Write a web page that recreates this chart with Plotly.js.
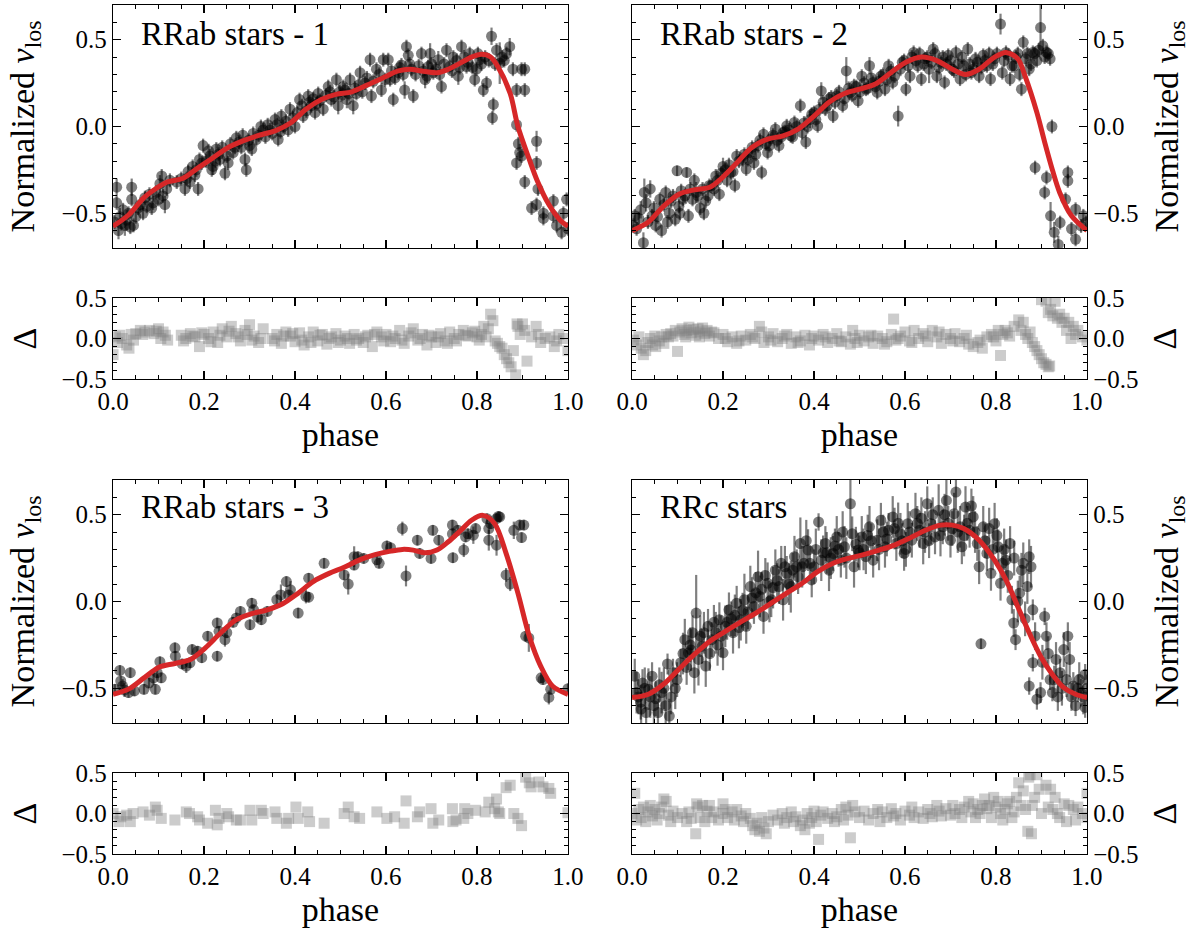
<!DOCTYPE html>
<html><head><meta charset="utf-8">
<script src="https://cdn.plot.ly/plotly-3.0.1.min.js"></script>
<style>html,body{margin:0;padding:0;background:#fff}#chart{width:1200px;height:928px}</style>
</head><body><div id="chart"></div>
<script>
// ---------------- DATA ----------------
const panelLabels = ['RRab stars - 1', 'RRab stars - 2', 'RRab stars - 3', 'RRc stars'];
const yTitleMain = 'Normalized <i>v</i><sub>los</sub>';
const yTitleRes = '\u0394';
const xTitle = 'phase';

// panel 1 observed points: [phase, normalized v_los, error]
const p1_points = [
[0.008,-0.35,0.05],[0.008,-0.44,0.04],[0.015,-0.52,0.05],[0.022,-0.48,0.04],[0.026,-0.57,0.06],
[0.041,-0.35,0.05],[0.041,-0.42,0.04],[0.045,-0.57,0.04],[0.034,-0.50,0.04],[0.066,-0.50,0.04],
[0.074,-0.46,0.04],[0.088,-0.44,0.04],[0.103,-0.33,0.05],[0.107,-0.285,0.04],[0.11,-0.40,0.04],
[0.114,-0.45,0.05],[0.158,-0.36,0.04],[0.162,-0.30,0.04],[0.169,-0.32,0.04],[0.18,-0.28,0.04],
[0.187,-0.36,0.04],[0.198,-0.11,0.04],[0.195,-0.21,0.04],[0.213,-0.17,0.04],[0.22,-0.23,0.05],
[0.227,-0.13,0.04],[0.235,-0.19,0.04],[0.246,-0.27,0.04],[0.253,-0.21,0.04],[0.264,-0.15,0.04],
[0.271,-0.065,0.04],[0.282,-0.12,0.04],[0.29,-0.19,0.04],[0.293,-0.25,0.04],[0.30,-0.11,0.04],
[0.308,-0.04,0.04],[0.315,-0.075,0.04],[0.33,-0.02,0.04],[0.345,-0.02,0.04],[0.356,0.04,0.04],
[0.363,-0.075,0.04],[0.37,0.06,0.04],[0.374,0.0,0.04],[0.389,0.10,0.04],[0.40,0.0,0.04],
[0.41,0.155,0.04],[0.418,0.06,0.04],[0.429,0.175,0.04],[0.436,0.12,0.04],[0.444,0.08,0.04],
[0.451,0.19,0.04],[0.462,0.10,0.04],[0.473,0.23,0.04],[0.48,0.155,0.04],[0.491,0.27,0.04],
[0.495,0.12,0.05],
[0.003,-0.55,0.04],[0.012,-0.60,0.05],[0.018,-0.56,0.04],[0.03,-0.54,0.06],[0.038,-0.58,0.04],
[0.05,-0.52,0.04],[0.055,-0.47,0.04],[0.06,-0.45,0.04],[0.07,-0.41,0.04],[0.08,-0.39,0.04],
[0.085,-0.47,0.04],[0.095,-0.38,0.04],[0.1,-0.42,0.04],[0.118,-0.36,0.04],[0.125,-0.31,0.04],
[0.14,-0.32,0.04],[0.15,-0.30,0.04],[0.165,-0.26,0.04],[0.175,-0.23,0.04],[0.183,-0.25,0.04],
[0.19,-0.19,0.04],[0.205,-0.20,0.04],[0.21,-0.14,0.04],[0.217,-0.25,0.04],[0.225,-0.20,0.04],
[0.232,-0.16,0.04],[0.24,-0.12,0.04],[0.25,-0.17,0.04],[0.258,-0.10,0.04],[0.268,-0.12,0.04],
[0.277,-0.09,0.04],[0.285,-0.05,0.04],[0.298,-0.08,0.04],[0.305,-0.13,0.04],[0.32,-0.05,0.04],
[0.325,0.0,0.04],[0.335,-0.06,0.04],[0.34,0.01,0.04],[0.35,-0.04,0.04],[0.36,0.01,0.04],
[0.368,-0.03,0.04],[0.38,0.03,0.04],[0.385,-0.02,0.04],[0.395,0.05,0.04],[0.405,0.08,0.04],
[0.415,0.12,0.04],[0.425,0.09,0.04],[0.432,0.14,0.04],[0.44,0.16,0.04],[0.448,0.13,0.04],
[0.455,0.15,0.04],[0.468,0.18,0.04],[0.477,0.2,0.04],[0.485,0.17,0.04],[0.498,0.2,0.04],
[0.506,0.23,0.04],[0.514,0.155,0.05],[0.521,0.27,0.04],[0.528,0.12,0.05],[0.535,0.19,0.04],
[0.543,0.31,0.04],[0.554,0.25,0.04],[0.565,0.385,0.04],[0.568,0.175,0.04],[0.579,0.33,0.04],
[0.59,0.21,0.04],[0.594,0.385,0.04],[0.605,0.385,0.04],[0.609,0.27,0.04],[0.616,0.155,0.04],
[0.627,0.31,0.04],[0.634,0.355,0.04],[0.641,0.21,0.05],[0.645,0.46,0.04],[0.649,0.41,0.04],
[0.656,0.33,0.04],[0.66,0.175,0.04],[0.678,0.42,0.04],[0.686,0.27,0.05],[0.693,0.345,0.04],
[0.697,0.42,0.06],[0.704,0.31,0.04],[0.715,0.385,0.05],[0.722,0.23,0.04],[0.733,0.44,0.04],
[0.74,0.345,0.04],[0.748,0.40,0.04],[0.759,0.29,0.05],[0.766,0.46,0.04],[0.777,0.345,0.04],
[0.784,0.42,0.04],[0.795,0.27,0.04],[0.799,0.33,0.04],[0.806,0.385,0.04],[0.814,0.21,0.04],
[0.821,0.25,0.04],[0.832,0.52,0.05],[0.836,0.127,0.04],[0.834,0.05,0.04],[0.843,0.44,0.04],
[0.85,0.365,0.12],[0.865,0.42,0.04],[0.872,0.46,0.05],[0.879,0.33,0.04],[0.887,0.21,0.04],
[0.898,0.33,0.04],[0.905,0.33,0.04],[0.905,0.21,0.04],
[0.887,0.01,0.04],[0.891,-0.10,0.04],[0.894,-0.15,0.05],[0.887,-0.21,0.04],[0.898,-0.17,0.04],
[0.905,-0.32,0.04],[0.931,-0.085,0.06],[0.931,-0.21,0.04],[0.934,-0.36,0.04],[0.92,-0.47,0.04],
[0.931,-0.45,0.04],[0.946,-0.50,0.04],[0.946,-0.53,0.04],[0.968,-0.43,0.04],[0.968,-0.515,0.04],
[0.975,-0.57,0.04],[0.99,-0.50,0.04],[0.997,-0.42,0.04],[0.986,-0.61,0.04],[1.0,-0.59,0.04],
[0.502,0.18,0.04],[0.51,0.21,0.04],[0.518,0.19,0.04],[0.532,0.22,0.04],[0.54,0.24,0.04],
[0.548,0.2,0.04],[0.558,0.28,0.04],[0.572,0.26,0.04],[0.585,0.3,0.04],[0.598,0.27,0.04],
[0.612,0.32,0.04],[0.62,0.28,0.04],[0.63,0.34,0.04],[0.638,0.3,0.04],[0.652,0.36,0.04],
[0.665,0.3,0.04],[0.672,0.35,0.04],[0.682,0.32,0.04],[0.69,0.29,0.04],[0.7,0.36,0.04],
[0.71,0.33,0.04],[0.718,0.3,0.04],[0.728,0.36,0.04],[0.745,0.32,0.04],[0.755,0.38,0.04],
[0.762,0.34,0.04],[0.772,0.4,0.04],[0.78,0.37,0.04],[0.79,0.34,0.04],[0.802,0.42,0.04],
[0.81,0.36,0.04],[0.818,0.4,0.04],[0.826,0.38,0.04],[0.84,0.36,0.04],[0.855,0.4,0.04],
[0.86,0.38,0.04]
];
const p1_model_phase = [0,0.034,0.068,0.093,0.119,0.153,0.186,0.22,0.254,0.288,0.322,0.356,0.39,0.424,0.458,0.49,0.525,0.56,0.593,0.627,0.653,0.678,0.712,0.737,0.763,0.788,0.81,0.83,0.847,0.873,0.89,0.915,0.932,0.958,0.983,1.0];
const p1_model_v = [-0.575,-0.51,-0.41,-0.36,-0.32,-0.30,-0.24,-0.18,-0.12,-0.08,-0.05,-0.025,0.02,0.10,0.156,0.185,0.20,0.24,0.28,0.32,0.33,0.32,0.31,0.33,0.365,0.40,0.416,0.40,0.34,0.19,0.0,-0.19,-0.31,-0.45,-0.54,-0.575];
// panel 1 residuals: [phase, delta]
const p1_resid = [
[0.0,-0.2],[0.005,0.02],[0.01,-0.05],[0.02,0.0],[0.03,-0.08],[0.035,-0.12],[0.04,0.05],[0.05,0.06],[0.06,0.1],[0.07,0.08],
[0.08,0.1],[0.09,0.06],[0.1,0.12],[0.105,0.0],[0.11,0.08],[0.115,0.04],[0.12,-0.02],[0.15,0.04],[0.16,0.0],[0.17,0.06],
[0.18,0.02],[0.19,-0.1],[0.2,0.05],[0.21,0.0],[0.22,0.08],[0.23,-0.05],[0.24,0.12],[0.25,0.02],[0.26,0.15],[0.27,0.06],
[0.28,-0.03],[0.29,0.1],[0.3,0.17],[0.31,0.03],[0.32,-0.05],[0.33,0.12],[0.35,0.0],[0.36,0.05],[0.37,-0.06],[0.38,0.08],
[0.39,0.03],[0.4,-0.04],[0.41,0.07],[0.42,-0.08],[0.43,0.02],[0.44,0.08],[0.45,-0.03],[0.46,0.05],[0.47,-0.07],[0.48,0.02],
[0.49,0.06],[0.5,-0.02],[0.51,0.03],[0.52,-0.06],[0.53,0.05],[0.54,0.0],[0.55,-0.05],[0.56,0.04],[0.57,-0.1],[0.58,0.08],
[0.59,0.02],[0.6,0.05],[0.61,-0.04],[0.62,0.0],[0.63,0.1],[0.64,-0.06],[0.65,0.03],[0.66,0.12],[0.67,-0.02],[0.68,0.05],
[0.69,-0.08],[0.7,0.02],[0.71,-0.05],[0.72,0.06],[0.73,-0.03],[0.74,0.08],[0.75,0.0],[0.76,0.05],[0.77,0.1],[0.78,0.03],
[0.79,0.07],[0.8,0.02],[0.81,0.05],[0.815,0.15],[0.82,0.02],[0.825,0.12],[0.83,0.3],[0.835,0.22],[0.84,-0.03],[0.845,-0.06],
[0.85,-0.1],[0.855,-0.12],[0.86,-0.2],[0.865,-0.25],[0.87,-0.3],[0.875,-0.35],[0.88,-0.15],[0.885,-0.45],[0.888,0.18],[0.89,0.15],
[0.895,0.05],[0.9,0.18],[0.905,0.1],[0.91,-0.28],[0.92,0.02],[0.93,0.15],[0.94,-0.05],[0.95,0.0],[0.96,0.02],[0.97,-0.1],
[0.98,0.05],[0.99,0.0],[1.0,-0.15],
[0.015,0.04],[0.045,-0.02],[0.065,0.05],[0.095,0.09],[0.155,-0.03],[0.175,0.03],[0.195,0.07],[0.215,-0.04],[0.235,0.04],[0.255,0.09],
[0.275,0.02],[0.295,0.05],[0.305,-0.02],[0.325,0.0],[0.355,-0.03],[0.375,0.03],[0.395,0.06],[0.415,-0.02],[0.435,-0.05],[0.455,0.04],
[0.475,0.0],[0.495,-0.05],[0.515,0.0],[0.535,-0.02],[0.555,0.02],[0.575,0.05],[0.595,-0.03],[0.615,0.03],[0.635,-0.02],[0.655,0.07],
[0.675,0.0],[0.695,0.04],[0.715,0.02],[0.735,-0.06],[0.755,-0.03],[0.775,0.04],[0.795,0.09],[0.805,-0.02],[0.935,0.05],[0.975,-0.03]
];

// panel 2
const p2_points = [
[0.006,-0.515,0.04],[0.01,-0.59,0.04],[0.019,-0.48,0.05],[0.025,-0.67,0.06],[0.027,-0.38,0.08],
[0.031,-0.44,0.05],[0.04,-0.36,0.05],[0.044,-0.515,0.04],[0.052,-0.57,0.04],[0.065,-0.60,0.04],
[0.061,-0.42,0.04],[0.074,-0.38,0.04],[0.082,-0.50,0.04],[0.095,-0.535,0.04],[0.099,-0.255,0.03],
[0.103,-0.46,0.04],[0.112,-0.42,0.04],[0.12,-0.265,0.03],[0.124,-0.515,0.04],[0.133,-0.42,0.04],
[0.137,-0.31,0.04],[0.141,-0.38,0.06],[0.15,-0.47,0.04],[0.158,-0.50,0.04],[0.167,-0.40,0.04],
[0.175,-0.34,0.04],[0.184,-0.285,0.04],[0.192,-0.39,0.04],[0.2,-0.23,0.05],[0.209,-0.31,0.04],
[0.217,-0.265,0.04],[0.226,-0.34,0.04],[0.23,-0.17,0.04],[0.243,-0.19,0.04],[0.251,-0.245,0.04],
[0.26,-0.15,0.04],[0.268,-0.21,0.04],[0.277,-0.11,0.04],[0.285,-0.265,0.04],[0.289,-0.045,0.04],
[0.298,-0.15,0.04],[0.306,-0.07,0.04],[0.315,-0.015,0.04],[0.323,-0.11,0.04],[0.332,-0.035,0.04],
[0.34,0.004,0.04],[0.349,-0.054,0.04],[0.357,0.023,0.04],[0.37,0.12,0.04],[0.374,-0.035,0.04],
[0.382,-0.09,0.04],[0.391,0.04,0.05],[0.4,0.08,0.04],[0.408,0.004,0.04],[0.416,0.205,0.05],
[0.425,0.10,0.04],[0.433,0.158,0.04],[0.442,0.06,0.04],[0.45,0.177,0.04],[0.463,0.12,0.04],
[0.471,0.32,0.08],[0.48,0.196,0.04],[0.488,0.235,0.04],[0.497,0.148,0.04],[0.505,0.29,0.04],
[0.514,0.215,0.04],[0.522,0.35,0.05],[0.53,0.254,0.04],[0.539,0.196,0.04],[0.547,0.29,0.04],
[0.556,0.215,0.04],[0.564,0.35,0.04],[0.573,0.254,0.04],[0.585,0.06,0.06],[0.594,0.37,0.04],
[0.602,0.215,0.04],[0.611,0.29,0.04],[0.619,0.427,0.04],[0.628,0.35,0.04],[0.636,0.273,0.04],
[0.645,0.39,0.04],[0.653,0.33,0.08],[0.662,0.446,0.04],[0.67,0.29,0.04],[0.679,0.37,0.04],
[0.687,0.254,0.04],[0.695,0.41,0.04],[0.704,0.33,0.04],[0.712,0.427,0.04],[0.721,0.273,0.04],
[0.729,0.35,0.04],[0.738,0.446,0.04],[0.746,0.31,0.04],[0.755,0.39,0.04],[0.763,0.29,0.04],
[0.772,0.41,0.04],[0.78,0.35,0.04],[0.788,0.273,0.04],[0.797,0.39,0.04],[0.81,0.59,0.06],
[0.814,0.31,0.04],[0.822,0.427,0.04],[0.831,0.273,0.04],[0.835,0.35,0.04],[0.844,0.40,0.04],
[0.856,0.215,0.04],[0.86,0.485,0.04],[0.865,0.39,0.04],[0.873,0.33,0.04],[0.881,0.427,0.04],
[0.89,0.38,0.04],[0.898,0.57,0.15],[0.903,0.465,0.04],[0.911,0.427,0.04],[0.919,0.39,0.04],
[0.923,0.0,0.04],[0.886,-0.237,0.04],[0.911,-0.294,0.04],[0.907,-0.38,0.04],[0.92,-0.515,0.08],
[0.928,-0.61,0.06],[0.937,-0.68,0.05],[0.958,-0.265,0.04],[0.958,-0.313,0.04],[0.953,-0.42,0.04],
[0.975,-0.477,0.04],[0.975,-0.65,0.04],[0.992,-0.515,0.04],[0.987,-0.573,0.04],[0.941,-0.554,0.04],
[0.966,-0.59,0.04],[0.998,-0.554,0.04],
[0.003,-0.57,0.04],[0.015,-0.53,0.04],[0.035,-0.55,0.04],[0.048,-0.47,0.04],[0.056,-0.52,0.04],
[0.07,-0.45,0.04],[0.078,-0.55,0.04],[0.086,-0.43,0.04],[0.09,-0.40,0.04],[0.105,-0.50,0.04],
[0.108,-0.37,0.04],[0.116,-0.40,0.04],[0.128,-0.36,0.04],[0.145,-0.40,0.04],[0.155,-0.36,0.04],
[0.162,-0.43,0.04],[0.17,-0.34,0.04],[0.18,-0.36,0.04],[0.188,-0.31,0.04],[0.196,-0.27,0.04],
[0.205,-0.25,0.04],[0.213,-0.22,0.04],[0.222,-0.26,0.04],[0.235,-0.2,0.04],[0.247,-0.16,0.04],
[0.255,-0.19,0.04],[0.264,-0.12,0.04],[0.272,-0.16,0.04],[0.281,-0.08,0.04],[0.294,-0.1,0.04],
[0.302,-0.11,0.04],[0.31,-0.05,0.04],[0.319,-0.08,0.04],[0.328,-0.06,0.04],[0.336,-0.03,0.04],
[0.345,-0.02,0.04],[0.353,-0.06,0.04],[0.362,0.0,0.04],[0.378,0.02,0.04],[0.386,0.0,0.04],
[0.395,0.07,0.04],[0.404,0.04,0.04],[0.412,0.1,0.04],[0.42,0.14,0.04],[0.429,0.12,0.04],
[0.438,0.17,0.04],[0.446,0.14,0.04],[0.455,0.2,0.04],[0.467,0.16,0.04],[0.476,0.22,0.04],
[0.484,0.18,0.04],[0.493,0.23,0.04],[0.501,0.2,0.04],[0.51,0.25,0.04],[0.518,0.22,0.04],
[0.526,0.28,0.04],[0.535,0.23,0.04],[0.543,0.26,0.04],[0.552,0.3,0.04],[0.56,0.27,0.04],
[0.569,0.32,0.04],[0.577,0.29,0.04],[0.59,0.33,0.04],[0.598,0.38,0.04],[0.607,0.35,0.04],
[0.615,0.4,0.04],[0.624,0.38,0.04],[0.632,0.42,0.04],[0.641,0.36,0.04],[0.649,0.4,0.04],
[0.658,0.37,0.04],[0.666,0.42,0.04],[0.675,0.34,0.04],[0.683,0.4,0.04],[0.691,0.36,0.04],
[0.7,0.38,0.04],[0.708,0.32,0.04],[0.717,0.36,0.04],[0.725,0.4,0.04],[0.734,0.3,0.04],
[0.742,0.36,0.04],[0.75,0.33,0.04],[0.759,0.37,0.04],[0.768,0.34,0.04],[0.776,0.38,0.04],
[0.785,0.42,0.04],[0.793,0.36,0.04],[0.802,0.42,0.04],[0.818,0.38,0.04],[0.827,0.41,0.04],
[0.84,0.35,0.04],[0.848,0.42,0.04],[0.852,0.3,0.04],[0.869,0.42,0.04],[0.877,0.36,0.04],
[0.885,0.42,0.04],[0.894,0.44,0.04],[0.907,0.4,0.04],[0.915,0.42,0.04]
];
const p2_model_phase = [0,0.036,0.069,0.103,0.137,0.171,0.196,0.23,0.264,0.298,0.332,0.365,0.4,0.433,0.467,0.5,0.535,0.569,0.602,0.636,0.67,0.704,0.733,0.763,0.797,0.822,0.848,0.864,0.89,0.907,0.924,0.94,0.966,1.0];
const p2_model_v = [-0.6,-0.55,-0.46,-0.39,-0.365,-0.35,-0.30,-0.21,-0.12,-0.073,-0.054,-0.015,0.06,0.14,0.19,0.215,0.245,0.31,0.37,0.40,0.38,0.33,0.30,0.33,0.40,0.427,0.39,0.29,0.08,-0.09,-0.25,-0.38,-0.515,-0.6];
const p2_resid = [
[0.003,-0.02],[0.01,-0.08],[0.015,0.02],[0.02,-0.12],[0.025,-0.2],[0.03,-0.15],[0.035,-0.05],[0.04,0.0],[0.045,-0.08],[0.05,0.03],
[0.06,-0.03],[0.065,0.02],[0.07,-0.06],[0.08,0.02],[0.085,0.06],[0.09,0.03],[0.095,0.1],[0.1,-0.16],[0.105,0.08],[0.11,0.12],
[0.115,0.05],[0.12,0.1],[0.125,0.14],[0.13,0.07],[0.135,0.11],[0.14,0.04],[0.145,0.12],[0.15,0.08],[0.155,0.13],[0.16,0.06],
[0.165,0.1],[0.17,0.03],[0.18,0.07],[0.19,0.0],[0.2,0.05],[0.21,-0.04],[0.22,0.02],[0.23,-0.06],[0.24,0.03],[0.25,-0.02],
[0.26,0.05],[0.27,0.0],[0.28,0.15],[0.285,0.08],[0.29,-0.05],[0.3,0.02],[0.31,0.06],[0.32,-0.04],[0.33,0.0],[0.34,0.05],
[0.35,-0.06],[0.36,0.02],[0.37,-0.03],[0.38,0.04],[0.39,-0.08],[0.4,0.03],[0.41,-0.02],[0.42,0.05],[0.43,-0.05],[0.44,0.0],
[0.45,0.06],[0.46,-0.04],[0.47,0.02],[0.48,-0.07],[0.485,0.1],[0.49,0.0],[0.5,0.04],[0.51,-0.03],[0.52,0.02],[0.53,-0.06],
[0.54,0.03],[0.55,0.0],[0.56,-0.04],[0.57,0.05],[0.575,0.24],[0.58,-0.02],[0.59,0.03],[0.6,0.08],[0.61,-0.03],[0.62,0.1],
[0.63,0.0],[0.64,0.06],[0.65,-0.04],[0.66,0.1],[0.67,0.02],[0.68,-0.06],[0.69,0.05],[0.7,0.0],[0.71,0.06],[0.72,-0.04],
[0.73,0.0],[0.74,-0.07],[0.75,-0.1],[0.76,-0.05],[0.77,-0.12],[0.78,0.02],[0.79,0.05],[0.8,-0.03],[0.805,0.1],[0.81,-0.21],
[0.815,0.05],[0.82,0.1],[0.83,0.03],[0.84,0.15],[0.85,0.23],[0.855,0.1],[0.86,0.2],[0.865,0.05],[0.87,0.0],[0.875,0.08],
[0.88,-0.05],[0.885,-0.1],[0.89,-0.15],[0.895,-0.2],[0.9,-0.25],[0.905,-0.3],[0.91,-0.32],[0.915,-0.35],[0.918,-0.34],[0.9,0.48],
[0.91,0.46],[0.915,0.32],[0.92,0.36],[0.925,0.28],[0.93,0.46],[0.935,0.25],[0.94,0.3],[0.945,0.2],[0.95,0.25],[0.955,0.1],
[0.96,0.2],[0.965,0.0],[0.97,0.15],[0.975,0.05],[0.98,0.1],[0.99,0.02],[1.0,-0.02],
[0.052,-0.1],[0.075,0.05],[0.118,0.02],[0.148,0.02],[0.175,0.08],[0.205,0.0],[0.235,-0.03],[0.265,0.02],[0.305,-0.02],[0.335,0.03],
[0.365,-0.05],[0.395,0.0],[0.425,0.02],[0.455,-0.03],[0.495,-0.05],[0.525,0.04],[0.555,-0.07],[0.585,0.0],[0.615,-0.05],[0.645,0.03],
[0.675,0.08],[0.705,-0.03],[0.735,0.04],[0.765,-0.02],[0.795,0.02],[0.825,0.07]
];

// panel 3
const p3_points = [
[0.004,-0.506,0.03],[0.015,-0.397,0.03],[0.017,-0.458,0.03],[0.021,-0.487,0.04],[0.038,-0.41,0.03],
[0.034,-0.525,0.03],[0.047,-0.515,0.03],[0.068,-0.506,0.03],[0.089,-0.44,0.04],[0.093,-0.506,0.03],
[0.097,-0.41,0.03],[0.106,-0.44,0.03],[0.103,-0.347,0.03],[0.136,-0.267,0.03],[0.137,-0.315,0.03],
[0.161,-0.372,0.04],[0.169,-0.353,0.03],[0.174,-0.277,0.03],[0.186,-0.286,0.03],[0.195,-0.324,0.03],
[0.208,-0.2,0.03],[0.229,-0.124,0.03],[0.233,-0.172,0.03],[0.229,-0.315,0.03],[0.246,-0.22,0.04],
[0.25,-0.18,0.03],[0.271,-0.095,0.03],[0.28,-0.057,0.03],[0.301,-0.134,0.03],[0.305,-0.01,0.03],
[0.309,-0.048,0.03],[0.326,-0.105,0.03],[0.339,-0.057,0.03],[0.36,0.01,0.03],[0.369,0.038,0.06],
[0.381,0.115,0.03],[0.386,0.038,0.03],[0.39,0.067,0.05],[0.407,-0.067,0.03],[0.424,0.029,0.04],
[0.43,0.134,0.03],[0.43,0.025,0.03],[0.464,0.22,0.03],[0.508,0.153,0.03],[0.517,0.1,0.06],
[0.53,0.258,0.06],[0.538,0.258,0.03],[0.551,0.248,0.03],[0.58,0.24,0.03],[0.585,0.22,0.03],
[0.602,0.32,0.03],[0.61,0.31,0.03],[0.636,0.42,0.04],[0.644,0.147,0.06],[0.669,0.353,0.03],
[0.674,0.277,0.03],[0.699,0.248,0.03],[0.703,0.41,0.03],[0.716,0.353,0.03],[0.746,0.44,0.03],
[0.746,0.39,0.03],[0.747,0.252,0.03],[0.758,0.41,0.03],[0.771,0.296,0.04],[0.775,0.372,0.03],
[0.78,0.39,0.03],[0.792,0.382,0.05],[0.797,0.42,0.03],[0.822,0.477,0.03],[0.826,0.42,0.03],
[0.83,0.448,0.03],[0.843,0.477,0.03],[0.847,0.49,0.03],[0.85,0.487,0.03],[0.826,0.353,0.06],
[0.843,0.324,0.06],[0.864,0.153,0.04],[0.873,0.1,0.04],[0.881,0.41,0.05],[0.894,0.44,0.03],
[0.898,0.368,0.03],[0.903,0.44,0.03],[0.907,-0.2,0.03],[0.914,-0.21,0.08],[0.941,-0.44,0.03],
[0.945,-0.45,0.03],[0.958,-0.553,0.04],[0.962,-0.506,0.03],[1.0,-0.502,0.03],[0.079,-0.47,0.03],
[0.025,-0.51,0.04],[0.152,-0.36,0.03],[0.264,-0.12,0.03],[0.318,-0.09,0.03],[0.53,0.21,0.03]
];
const p3_model_phase = [0,0.034,0.068,0.1,0.136,0.17,0.203,0.237,0.271,0.305,0.339,0.373,0.407,0.44,0.475,0.508,0.542,0.576,0.61,0.636,0.66,0.686,0.712,0.737,0.763,0.788,0.813,0.839,0.864,0.89,0.915,0.94,0.966,1.0];
const p3_model_v = [-0.535,-0.505,-0.44,-0.38,-0.357,-0.334,-0.267,-0.18,-0.105,-0.07,-0.048,-0.013,0.048,0.115,0.162,0.197,0.24,0.27,0.29,0.30,0.296,0.28,0.296,0.344,0.406,0.468,0.496,0.448,0.277,0.048,-0.2,-0.372,-0.487,-0.535];
const p3_resid = [
[0.0,0.0],[0.013,-0.1],[0.017,-0.04],[0.03,-0.02],[0.038,-0.1],[0.044,0.0],[0.066,0.02],[0.08,-0.02],[0.093,0.08],[0.097,0.04],
[0.106,-0.06],[0.136,-0.08],[0.161,0.02],[0.168,0.0],[0.186,-0.04],[0.19,-0.08],[0.208,-0.12],[0.225,0.04],[0.229,-0.14],[0.233,-0.06],
[0.25,0.0],[0.254,-0.04],[0.271,-0.08],[0.28,-0.08],[0.301,0.04],[0.305,-0.08],[0.326,0.04],[0.33,0.0],[0.356,0.02],[0.36,-0.06],
[0.381,-0.12],[0.386,-0.06],[0.402,0.08],[0.407,-0.06],[0.428,0.02],[0.432,-0.1],[0.464,-0.12],[0.508,0.0],[0.517,0.08],[0.53,-0.04],
[0.542,-0.06],[0.58,0.02],[0.602,-0.06],[0.619,-0.04],[0.64,-0.12],[0.644,0.156],[0.669,-0.04],[0.674,0.02],[0.699,0.06],[0.703,-0.12],
[0.716,-0.08],[0.746,0.06],[0.747,-0.1],[0.754,-0.08],[0.771,-0.06],[0.773,0.06],[0.78,0.0],[0.797,0.04],[0.818,0.02],[0.826,0.14],
[0.839,0.06],[0.843,0.18],[0.847,0.02],[0.85,0.0],[0.864,0.32],[0.873,0.35],[0.881,0.0],[0.89,-0.06],[0.898,-0.15],[0.907,0.45],
[0.915,0.38],[0.919,0.33],[0.936,0.39],[0.945,0.33],[0.958,0.31],[0.962,0.25],[1.0,0.01]
];

// panel 4 (RRc)
const p4_points = [
[0.006,-0.43,0.1],[0.01,-0.525,0.12],[0.019,-0.58,0.1],[0.023,-0.47,0.08],[0.031,-0.64,0.1],
[0.036,-0.505,0.12],[0.044,-0.43,0.08],[0.052,-0.56,0.1],[0.057,-0.64,0.08],[0.065,-0.525,0.12],
[0.074,-0.60,0.1],[0.078,-0.36,0.06],[0.082,-0.66,0.1],[0.09,-0.41,0.08],[0.099,-0.45,0.1],
[0.107,-0.353,0.08],[0.116,-0.22,0.12],[0.124,-0.296,0.1],[0.133,-0.18,0.1],[0.137,-0.41,0.12],
[0.141,-0.067,0.22],[0.146,-0.334,0.15],[0.154,-0.258,0.1],[0.162,-0.372,0.12],[0.167,-0.143,0.1],
[0.175,-0.22,0.1],[0.184,-0.18,0.12],[0.192,-0.105,0.1],[0.2,-0.296,0.1],[0.205,-0.143,0.12],
[0.213,-0.048,0.1],[0.222,-0.18,0.12],[0.23,-0.01,0.1],[0.239,-0.105,0.12],[0.247,0.01,0.15],
[0.251,-0.143,0.1],[0.26,0.086,0.12],[0.268,-0.029,0.1],[0.277,0.143,0.15],[0.281,0.029,0.12],
[0.289,-0.086,0.1],[0.298,0.105,0.12],[0.306,0.01,0.1],[0.315,0.18,0.12],[0.323,0.086,0.1],
[0.332,0.01,0.12],[0.34,0.162,0.1],[0.349,0.086,0.15],[0.357,0.258,0.12],[0.365,0.143,0.1],
[0.37,0.334,0.15],[0.378,0.22,0.1],[0.387,0.296,0.12],[0.395,0.124,0.1],[0.41,0.458,0.05],
[0.416,0.238,0.12],[0.425,0.334,0.1],[0.433,0.18,0.12],[0.442,0.277,0.1],[0.45,0.372,0.12],
[0.459,0.238,0.1],[0.467,0.315,0.12],[0.48,0.563,0.2],[0.484,0.39,0.1],[0.488,0.2,0.12],
[0.497,0.296,0.1],[0.505,0.372,0.12],[0.514,0.258,0.1],[0.522,0.43,0.12],[0.53,0.238,0.1],
[0.539,0.353,0.12],[0.547,0.468,0.1],[0.556,0.315,0.12],[0.564,0.41,0.1],[0.573,0.487,0.12],
[0.581,0.334,0.1],[0.59,0.39,0.12],[0.598,0.277,0.1],[0.606,0.448,0.12],[0.615,0.353,0.1],
[0.623,0.506,0.12],[0.632,0.41,0.1],[0.64,0.334,0.12],[0.649,0.563,0.1],[0.657,0.448,0.12],
[0.666,0.372,0.1],[0.674,0.525,0.15],[0.683,0.43,0.1],[0.691,0.582,0.12],[0.7,0.353,0.1],
[0.708,0.506,0.12],[0.712,0.63,0.1],[0.721,0.43,0.12],[0.725,0.315,0.1],[0.733,0.544,0.12],
[0.742,0.41,0.1],[0.75,0.487,0.12],[0.759,0.334,0.1],[0.767,-0.244,0.03],[0.763,0.2,0.1],
[0.772,0.43,0.12],[0.78,0.277,0.1],[0.789,0.162,0.1],[0.797,0.448,0.12],[0.805,0.315,0.1],
[0.81,0.105,0.1],[0.822,0.238,0.12],[0.831,0.334,0.1],[0.835,0.01,0.08],[0.839,-0.124,0.08],
[0.843,-0.22,0.06],[0.852,0.048,0.1],[0.856,0.18,0.1],[0.869,0.086,0.1],[0.873,0.258,0.1],
[0.877,0.2,0.12],[0.881,-0.048,0.06],[0.881,-0.353,0.05],[0.873,-0.487,0.05],[0.89,-0.563,0.06],
[0.898,-0.525,0.06],[0.907,-0.086,0.05],[0.911,-0.2,0.08],[0.919,-0.45,0.06],[0.924,-0.525,0.05],
[0.932,-0.334,0.1],[0.941,-0.41,0.08],[0.949,-0.277,0.1],[0.958,-0.2,0.08],[0.962,-0.334,0.1],
[0.97,-0.487,0.08],[0.975,-0.6,0.06],[0.987,-0.525,0.08],[0.996,-0.42,0.06],[0.996,-0.61,0.06],
[0.014,-0.55,0.1],[0.028,-0.5,0.12],[0.048,-0.6,0.1],[0.07,-0.5,0.12],[0.086,-0.55,0.1],
[0.112,-0.3,0.12],[0.128,-0.25,0.1],[0.15,-0.2,0.12],[0.171,-0.3,0.1],[0.188,-0.25,0.12],
[0.209,-0.12,0.1],[0.226,-0.08,0.12],[0.243,-0.05,0.1],[0.264,0.02,0.12],[0.285,0.07,0.1],
[0.302,0.0,0.12],[0.319,0.12,0.1],[0.336,0.2,0.12],[0.353,0.18,0.1],[0.374,0.2,0.12],
[0.391,0.22,0.1],[0.404,0.3,0.12],[0.42,0.28,0.1],[0.437,0.25,0.12],[0.454,0.3,0.1],
[0.471,0.25,0.12],[0.492,0.33,0.1],[0.509,0.3,0.12],[0.526,0.35,0.1],[0.543,0.3,0.12],
[0.56,0.36,0.1],[0.577,0.42,0.12],[0.594,0.35,0.1],[0.61,0.4,0.12],[0.627,0.45,0.1],
[0.644,0.4,0.12],[0.661,0.5,0.1],[0.678,0.38,0.12],[0.695,0.45,0.1],[0.716,0.4,0.12],
[0.737,0.45,0.1],[0.754,0.4,0.12],[0.776,0.35,0.1],[0.793,0.3,0.12],[0.814,0.22,0.1],
[0.826,0.15,0.1],[0.848,0.0,0.12],[0.864,-0.1,0.1],[0.886,-0.2,0.08],[0.902,-0.35,0.1],
[0.928,-0.45,0.08],[0.945,-0.5,0.1],[0.966,-0.55,0.08],[0.983,-0.45,0.1],[1.0,-0.5,0.08],
[0.02,-0.62,0.1],[0.04,-0.55,0.12],[0.06,-0.48,0.1],[0.095,-0.5,0.12],[0.12,-0.38,0.1],
[0.13,-0.28,0.12],[0.158,-0.18,0.12],[0.18,-0.12,0.1],[0.196,-0.2,0.12],[0.218,-0.1,0.1],
[0.235,-0.15,0.12],[0.255,-0.06,0.1],[0.272,0.05,0.12],[0.293,0.15,0.1],[0.31,0.08,0.12],
[0.328,0.22,0.1],[0.345,0.1,0.12],[0.362,0.2,0.1],[0.383,0.35,0.12],[0.4,0.2,0.1],
[0.428,0.28,0.12],[0.446,0.32,0.1],[0.463,0.4,0.12],[0.5,0.28,0.1],[0.518,0.38,0.12],
[0.552,0.4,0.1],[0.585,0.45,0.12],[0.602,0.3,0.1],[0.636,0.48,0.12],[0.653,0.35,0.1],
[0.687,0.5,0.12],[0.704,0.42,0.1],[0.73,0.38,0.12],[0.746,0.55,0.1],[0.785,0.42,0.12],
[0.802,0.38,0.1],[0.818,0.3,0.12],[0.84,0.25,0.1],[0.86,0.22,0.12],[0.915,-0.3,0.1],
[0.936,-0.55,0.08],[0.955,-0.45,0.1],[0.98,-0.5,0.08],[0.992,-0.55,0.1]
];
const p4_model_phase = [0,0.036,0.069,0.103,0.137,0.171,0.205,0.239,0.272,0.306,0.34,0.374,0.408,0.442,0.475,0.509,0.543,0.577,0.611,0.645,0.678,0.704,0.729,0.763,0.797,0.822,0.848,0.873,0.898,0.924,0.949,0.975,1.0];
const p4_model_v = [-0.553,-0.534,-0.477,-0.39,-0.305,-0.229,-0.172,-0.118,-0.067,-0.01,0.048,0.105,0.172,0.22,0.248,0.27,0.296,0.325,0.366,0.41,0.44,0.44,0.42,0.353,0.238,0.124,-0.03,-0.18,-0.315,-0.42,-0.496,-0.534,-0.553];
const p4_resid = [
[0.006,0.25],[0.0,0.0],[0.01,-0.08],[0.015,0.05],[0.02,-0.05],[0.025,0.08],[0.03,-0.1],[0.035,0.02],[0.04,0.1],[0.045,-0.03],
[0.05,0.05],[0.055,-0.08],[0.06,0.0],[0.065,0.08],[0.07,0.18],[0.075,0.15],[0.08,-0.02],[0.085,-0.1],[0.09,0.03],[0.1,-0.05],
[0.11,0.0],[0.12,-0.1],[0.125,0.02],[0.13,-0.06],[0.14,-0.25],[0.142,0.12],[0.145,0.08],[0.15,-0.05],[0.155,0.1],[0.16,-0.1],
[0.165,0.03],[0.17,0.1],[0.175,-0.05],[0.18,0.02],[0.19,-0.08],[0.2,0.0],[0.205,0.05],[0.21,-0.05],[0.2,0.12],[0.22,0.02],
[0.225,-0.08],[0.23,0.05],[0.24,-0.03],[0.245,-0.1],[0.25,0.0],[0.26,-0.06],[0.265,-0.15],[0.27,-0.2],[0.275,-0.12],[0.28,-0.22],
[0.285,-0.05],[0.29,-0.18],[0.295,-0.25],[0.3,-0.1],[0.31,-0.02],[0.32,-0.08],[0.33,0.0],[0.335,-0.12],[0.34,-0.05],[0.35,0.02],
[0.355,-0.1],[0.36,-0.04],[0.37,-0.15],[0.375,-0.08],[0.38,-0.2],[0.385,0.0],[0.39,-0.12],[0.395,-0.05],[0.4,0.03],[0.405,-0.1],
[0.41,-0.32],[0.415,-0.02],[0.42,0.02],[0.43,-0.06],[0.44,0.0],[0.445,-0.1],[0.45,-0.04],[0.46,0.05],[0.465,-0.08],[0.47,0.08],
[0.475,-0.02],[0.48,-0.3],[0.485,0.1],[0.49,0.02],[0.5,-0.05],[0.51,0.03],[0.52,-0.08],[0.53,0.0],[0.54,0.05],[0.545,-0.1],
[0.55,0.02],[0.56,-0.05],[0.57,0.06],[0.575,-0.03],[0.58,0.0],[0.59,-0.08],[0.6,0.03],[0.61,-0.02],[0.615,0.08],[0.62,-0.05],
[0.63,0.02],[0.64,-0.06],[0.65,0.05],[0.655,0.0],[0.66,-0.04],[0.67,0.1],[0.675,0.03],[0.68,-0.03],[0.69,0.06],[0.7,-0.02],
[0.705,0.1],[0.71,0.0],[0.72,0.05],[0.725,-0.05],[0.73,0.08],[0.74,0.15],[0.745,0.02],[0.75,0.12],[0.755,-0.05],[0.76,0.05],
[0.765,0.0],[0.77,0.1],[0.775,0.18],[0.78,0.06],[0.785,0.1],[0.79,-0.05],[0.795,0.2],[0.8,0.08],[0.805,0.15],[0.81,0.0],
[0.815,-0.08],[0.82,0.05],[0.825,0.12],[0.83,0.15],[0.835,-0.05],[0.84,0.02],[0.845,0.2],[0.85,0.38],[0.855,0.1],[0.86,0.28],
[0.865,0.05],[0.87,-0.22],[0.872,0.45],[0.875,0.48],[0.878,-0.25],[0.88,0.1],[0.885,0.2],[0.89,0.48],[0.895,0.3],[0.9,0.0],
[0.91,0.35],[0.915,0.08],[0.92,0.3],[0.925,0.05],[0.93,0.2],[0.935,0.0],[0.94,-0.05],[0.95,0.12],[0.955,-0.1],[0.96,0.1],
[0.97,0.05],[0.975,-0.08],[0.98,0.08],[0.99,0.0],[1.0,0.25],[1.0,-0.05]
];

// ---------------- STYLE & LAYOUT ----------------
const FONT = 'Liberation Serif, Times New Roman, serif';
const BLACK_A = 'rgba(0,0,0,0.5)';
const GREY_A = 'rgba(128,128,128,0.4)';
const RED = '#d62728';

const panels = [
  {pts: p1_points, mph: p1_model_phase, mv: p1_model_v, res: p1_resid, col: 0, row: 0},
  {pts: p2_points, mph: p2_model_phase, mv: p2_model_v, res: p2_resid, col: 1, row: 0},
  {pts: p3_points, mph: p3_model_phase, mv: p3_model_v, res: p3_resid, col: 0, row: 1},
  {pts: p4_points, mph: p4_model_phase, mv: p4_model_v, res: p4_resid, col: 1, row: 1}
];

const xDomains = [[0.0942, 0.4733], [0.5267, 0.9058]];
const mainDomains = [[0.7328, 0.9946], [0.2209, 0.4828]];
const resDomains = [[0.5916, 0.6789], [0.0797, 0.1670]];

function axisBase() {
  return {
    showline: true, linecolor: '#000', linewidth: 1.3, mirror: 'ticks',
    ticks: 'inside', ticklen: 8, tickwidth: 1.2, tickcolor: '#000',
    showgrid: false, zeroline: false,
    tickfont: {family: FONT, size: 25, color: '#000'},
    tickformat: '.1f'
  };
}

const traces = [];
const layout = {
  width: 1200, height: 928,
  margin: {l: 0, r: 0, t: 0, b: 0},
  paper_bgcolor: '#fff', plot_bgcolor: '#fff',
  showlegend: false,
  font: {family: FONT, color: '#000'},
  annotations: []
};

panels.forEach((p, i) => {
  const mi = 2 * i + 1, ri = 2 * i + 2;
  const mx = 'x' + (mi === 1 ? '' : mi), my = 'y' + (mi === 1 ? '' : mi);
  const rx = 'x' + ri, ry = 'y' + ri;
  const side = p.col === 0 ? 'left' : 'right';

  traces.push({
    type: 'scatter', mode: 'markers', xaxis: mx, yaxis: my,
    x: p.pts.map(d => d[0]), y: p.pts.map(d => d[1]),
    marker: {color: BLACK_A, size: 11, line: {width: 0}},
    error_y: {type: 'data', array: p.pts.map(d => d[2]), visible: true, color: BLACK_A, thickness: 2.2, width: 0},
    hoverinfo: 'skip'
  });
  traces.push({
    type: 'scatter', mode: 'lines', xaxis: mx, yaxis: my,
    x: p.mph, y: p.mv,
    line: {color: RED, width: 5, shape: 'spline', smoothing: 0.9},
    hoverinfo: 'skip'
  });
  traces.push({
    type: 'scatter', mode: 'markers', xaxis: rx, yaxis: ry,
    x: p.res.map(d => d[0]), y: p.res.map(d => d[1]),
    marker: {color: GREY_A, size: 11, symbol: 'square', line: {width: 0}},
    hoverinfo: 'skip'
  });

  const xKeyM = mi === 1 ? 'xaxis' : 'xaxis' + mi;
  const yKeyM = mi === 1 ? 'yaxis' : 'yaxis' + mi;
  layout[xKeyM] = Object.assign(axisBase(), {
    domain: xDomains[p.col], anchor: my, range: [0, 1], tick0: 0, dtick: 0.2,
    minor: {ticks: 'inside', dtick: 0.05, ticklen: 4, tickwidth: 1, tickcolor: '#000'},
    showticklabels: false
  });
  layout[yKeyM] = Object.assign(axisBase(), {
    domain: mainDomains[p.row], anchor: mx, range: [-0.7, 0.7], tick0: 0, dtick: 0.5,
    side: side,
    minor: {ticks: 'inside', dtick: 0.1, ticklen: 4, tickwidth: 1, tickcolor: '#000'},
    title: {text: yTitleMain, font: {family: FONT, size: 34, color: '#000'}, standoff: 16}
  });
  layout['xaxis' + ri] = Object.assign(axisBase(), {
    domain: xDomains[p.col], anchor: ry, range: [0, 1], tick0: 0, dtick: 0.2,
    minor: {ticks: 'inside', dtick: 0.05, ticklen: 4, tickwidth: 1, tickcolor: '#000'},
    title: {text: xTitle, font: {family: FONT, size: 34, color: '#000'}, standoff: 8}
  });
  layout['yaxis' + ri] = Object.assign(axisBase(), {
    domain: resDomains[p.row], anchor: rx, range: [-0.501, 0.501], tick0: 0, dtick: 0.5,
    side: side,
    minor: {ticks: 'inside', dtick: 0.1, ticklen: 4, tickwidth: 1, tickcolor: '#000'},
    title: {text: yTitleRes, font: {family: FONT, size: 34, color: '#000'}, standoff: 14}
  });

  layout.annotations.push({
    xref: 'paper', yref: 'paper',
    x: p.col === 0 ? 0.1158 : 0.5483,
    y: p.row === 0 ? 0.9634 : 0.4537,
    xanchor: 'left', yanchor: 'middle', showarrow: false,
    text: panelLabels[i],
    font: {family: FONT, size: 33, color: '#000'}
  });
});

Plotly.newPlot('chart', traces, layout, {staticPlot: true, displayModeBar: false});
</script>
</body></html>
